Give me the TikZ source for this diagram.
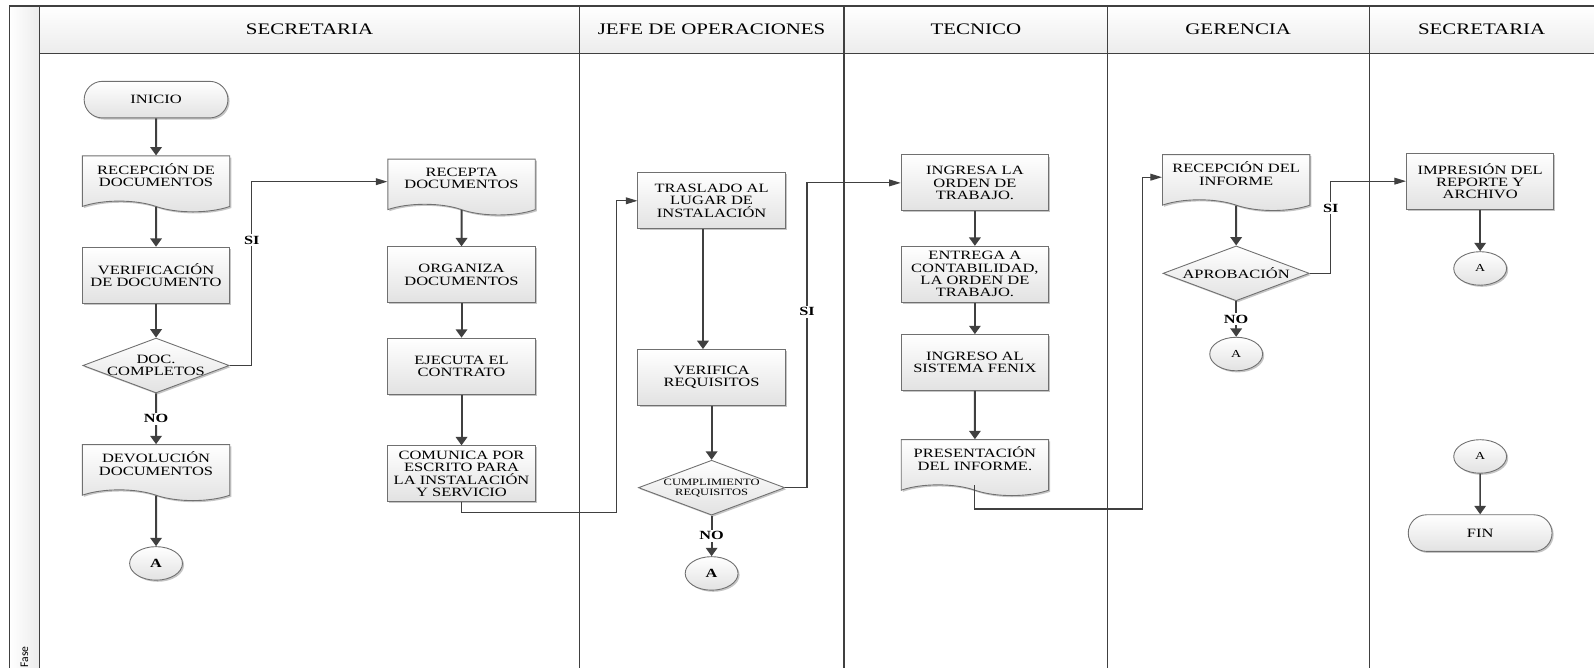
\documentclass[tikz,border=0pt]{standalone}
\usepackage{fontspec}
\setmainfont{Liberation Serif}[FakeStretch=1.3]
\newfontfamily\fasefont{Carlito}
\usetikzlibrary{arrows.meta,calc,positioning,shapes.geometric,shapes.misc,shapes.symbols,shadows}
\definecolor{ink}{HTML}{404040}
\definecolor{edge}{HTML}{707070}
\definecolor{shade}{HTML}{E2E2E2}
\definecolor{band}{HTML}{ECECEC}
\tikzset{
  basebox/.style={draw=edge,line width=0.5pt,top color=white,bottom color=shade,align=center,
    font=\fontsize{7.1}{6.9}\selectfont,inner sep=1pt,text=black,
    drop shadow={shadow xshift=0.9pt,shadow yshift=-0.9pt,fill=black!45,opacity=0.5}},
  procbox/.style={basebox,minimum width=2.9cm,minimum height=1.1cm},
  docbox/.style={basebox,tape,tape bend top=none,tape bend bottom=out and in,tape bend height=6pt,
    minimum width=2.9cm,minimum height=1.1cm,text depth=4pt},
  termbox/.style={basebox,rounded rectangle,minimum width=2.9cm,minimum height=0.72cm},
  decbox/.style={basebox,diamond,aspect=2.7,inner sep=-3pt,minimum width=2.88cm,minimum height=1.08cm},
  linkbox/.style={basebox,ellipse,inner sep=0pt,minimum width=1.04cm,minimum height=0.66cm},
  arrow/.style={-{Triangle[length=4.7pt,width=6.4pt]},line width=1.1pt,draw=ink},
  thinarrow/.style={-{Triangle[length=6.5pt,width=3.8pt]},line width=0.6pt,draw=ink},
  answer/.style={fill=white,inner sep=1pt,font=\fontsize{7}{8}\selectfont\bfseries},
  lane/.style={line width=0.8pt,draw=ink},
  lanehead/.style={font=\fontsize{9}{10}\selectfont}
}

\begin{document}
\begin{tikzpicture}[x=0.02cm,y=-0.02cm,node distance=0.7cm]
  \useasboundingbox (0,0) rectangle (1568,657);
  % swimlanes
  \shade[top color=white,bottom color=band] (38.8,6) rectangle (1568,52.5);
  \shade[left color=white,right color=band] (9.4,6) rectangle (38.8,657);
  \draw[lane] (1568,6) -- (9.4,6) -- (9.4,657);
  \draw[lane] (38.8,6) -- (38.8,657);
  \draw[lane] (38.8,52.5) -- (1568,52.5);
  \foreach \x in {570.3,830.3,1089.5,1347}
    \draw[lane] (\x,6) -- (\x,657);

  \node[lanehead] (hSec) at (304.5,29) {SECRETARIA};
  \node[lanehead] (hJefe) at (700,29) {JEFE DE OPERACIONES};
  \node[lanehead] (hTec) at (960,29) {TECNICO};
  \node[lanehead] (hGer) at (1218,29) {GERENCIA};
  \node[lanehead] (hSec2) at (1457.5,29) {SECRETARIA};
  \node[font=\fasefont\fontsize{6.5}{7}\selectfont,rotate=90,anchor=west,inner sep=0pt] (fase) at (24,657) {Fase};

  % secretaria
  \node[termbox] (inicio) at (153.5,98) {INICIO};
  \node[docbox,below=0.73cm of inicio] (recdoc) {RECEPCIÓN DE\\DOCUMENTOS};
  \node[procbox,below=0.89cm of recdoc] (verif) {VERIFICACIÓN\\DE DOCUMENTO};
  \node[decbox,below=0.67cm of verif] (doccomp) {DOC.\\COMPLETOS};
  \node[docbox,below=1.0cm of doccomp] (devol) {DEVOLUCIÓN\\DOCUMENTOS};
  \node[linkbox,below=1.1cm of devol,font=\fontsize{7}{8}\selectfont\bfseries] (linkA) {A};

  \node[docbox] (recepta) at (454,178.7) {RECEPTA\\DOCUMENTOS};
  \node[procbox,below=0.82cm of recepta] (organiza) {ORGANIZA\\DOCUMENTOS};
  \node[procbox,below=0.68cm of organiza] (ejecuta) {EJECUTA EL\\CONTRATO};
  \node[procbox,below=1.0cm of ejecuta] (comunica) {COMUNICA POR\\ESCRITO PARA\\LA INSTALACIÓN\\Y SERVICIO};

  % jefe de operaciones
  \node[procbox] (traslado) at (700,197.5) {TRASLADO AL\\LUGAR DE\\INSTALACIÓN};
  \node[procbox,below=2.36cm of traslado] (verifreq) {VERIFICA\\REQUISITOS};
  \node[decbox,below=1.06cm of verifreq,font=\fontsize{5.4}{5.6}\selectfont] (cumple) {CUMPLIMIENTO\\REQUISITOS};
  \node[linkbox,below=0.8cm of cumple,font=\fontsize{7}{8}\selectfont\bfseries] (linkB) {A};

  % tecnico
  \node[procbox] (ingresa) at (959,179.9) {INGRESA LA\\ORDEN DE\\TRABAJO.};
  \node[procbox,below=0.68cm of ingresa] (entrega) {ENTREGA A\\CONTABILIDAD,\\LA ORDEN DE\\TRABAJO.};
  \node[procbox,below=0.62cm of entrega] (fenix) {INGRESO AL\\SISTEMA FENIX};
  \node[docbox,below=0.95cm of fenix] (informe) {PRESENTACIÓN\\DEL INFORME.};

  % gerencia
  \node[docbox] (recinf) at (1216,174.3) {RECEPCIÓN DEL\\INFORME};
  \node[decbox,below=0.89cm of recinf] (aprueba) {APROBACIÓN};
  \node[linkbox,below=0.7cm of aprueba,font=\fontsize{6}{7}\selectfont] (linkC) {A};

  % secretaria (cierre)
  \node[procbox] (impresion) at (1456,178.2) {IMPRESIÓN DEL\\REPORTE Y\\ARCHIVO};
  \node[linkbox,below=0.82cm of impresion,font=\fontsize{6}{7}\selectfont] (linkD) {A};
  \node[linkbox,font=\fontsize{6}{7}\selectfont] (linkE) at (1456,449) {A};
  \node[termbox,below=0.8cm of linkE] (fin) {FIN};

  % flujo
  \coordinate (riseA) at (247.7,236);
  \coordinate (riseB) at (606,504.3);
  \coordinate (riseC) at (793.8,306.6);
  \coordinate (riseD) at (1123.6,500.7);
  \coordinate (riseE) at (1309,205);

  \draw[arrow] (inicio) -- (recdoc);
  \draw[arrow] (recdoc) -- (verif);
  \draw[arrow] (verif) -- (doccomp);
  \draw[arrow] (doccomp) -- node[answer] (noA) {NO} (devol);
  \draw[arrow] (devol) -- (linkA);
  \draw[thinarrow] (doccomp.east) -| (riseA) node[answer] (siA) {SI} |- (recepta.west);

  \draw[arrow] (recepta) -- (organiza);
  \draw[arrow] (organiza) -- (ejecuta);
  \draw[arrow] (ejecuta) -- (comunica);
  \draw[thinarrow] (comunica.south) |- (riseB) |- (traslado.west);

  \draw[arrow] ([xshift=-0.17cm]traslado.south) -- ([xshift=-0.17cm]verifreq.north);
  \draw[arrow] (verifreq) -- (cumple);
  \draw[arrow] (cumple) -- node[answer] (noB) {NO} (linkB);
  \draw[thinarrow] (cumple.east) -| (riseC) node[answer] (siB) {SI} |- (ingresa.west);

  \draw[arrow] (ingresa) -- (entrega);
  \draw[arrow] (entrega) -- (fenix);
  \draw[arrow] (fenix) -- (informe);
  \draw[thinarrow] (informe.south) |- (riseD) |- (recinf.west);

  \draw[arrow] (recinf) -- (aprueba);
  \draw[arrow] (aprueba) -- node[answer] (noC) {NO} (linkC);
  \draw[thinarrow] (aprueba.east) -| (riseE) node[answer] (siC) {SI} |- (impresion.west);

  \draw[arrow] (impresion) -- (linkD);
  \draw[arrow,line width=0.8pt] (linkE) -- (fin);
\end{tikzpicture}
\end{document}
